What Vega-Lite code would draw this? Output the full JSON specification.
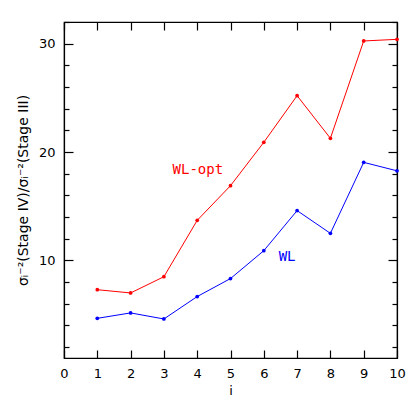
{
  "$schema": "https://vega.github.io/schema/vega-lite/v6.json",
  "width": 333,
  "height": 336,
  "autosize": "none",
  "padding": {"left": 64, "top": 22, "right": 18, "bottom": 57},
  "background": "white",
  "config": {
    "view": {"stroke": "black", "strokeWidth": 1.2},
    "axis": {
      "domainColor": "black", "tickColor": "black", "labelColor": "black", "titleColor": "black",
      "labelFont": "DejaVu Sans", "titleFont": "DejaVu Sans",
      "labelFontSize": 13, "titleFontSize": 13, "titleFontWeight": "normal", "grid": false,
      "labelOverlap": false, "labelFlush": false, "tickWidth": 1.2, "domainWidth": 1.2
    }
  },
  "datasets": {
    "series": [
      {"i": 1, "v": 7.3, "s": "WL-opt"},
      {"i": 2, "v": 7.0, "s": "WL-opt"},
      {"i": 3, "v": 8.5, "s": "WL-opt"},
      {"i": 4, "v": 13.7, "s": "WL-opt"},
      {"i": 5, "v": 16.9, "s": "WL-opt"},
      {"i": 6, "v": 20.9, "s": "WL-opt"},
      {"i": 7, "v": 25.2, "s": "WL-opt"},
      {"i": 8, "v": 21.27, "s": "WL-opt"},
      {"i": 9, "v": 30.25, "s": "WL-opt"},
      {"i": 10, "v": 30.4, "s": "WL-opt"},
      {"i": 1, "v": 4.66, "s": "WL"},
      {"i": 2, "v": 5.16, "s": "WL"},
      {"i": 3, "v": 4.6, "s": "WL"},
      {"i": 4, "v": 6.67, "s": "WL"},
      {"i": 5, "v": 8.33, "s": "WL"},
      {"i": 6, "v": 10.9, "s": "WL"},
      {"i": 7, "v": 14.6, "s": "WL"},
      {"i": 8, "v": 12.5, "s": "WL"},
      {"i": 9, "v": 19.05, "s": "WL"},
      {"i": 10, "v": 18.27, "s": "WL"}
    ],
    "labels": [
      {"i": 4.02, "v": 18.33, "s": "WL-opt"},
      {"i": 6.7, "v": 10.28, "s": "WL"}
    ]
  },
  "layer": [
    {
      "data": {"name": "series"},
      "mark": {"type": "line", "strokeWidth": 1},
      "encoding": {
        "x": {"field": "i", "type": "quantitative",
          "scale": {"domain": [0, 10], "nice": false, "zero": false},
          "axis": {"orient": "bottom", "values": [0,1,2,3,4,5,6,7,8,9,10], "tickSize": -8, "labelPadding": 17, "title": "i", "titlePadding": 4}},
        "y": {"field": "v", "type": "quantitative",
          "scale": {"domain": [1, 32], "nice": false, "zero": false},
          "axis": {"orient": "left", "values": [2,4,6,8,10,12,14,16,18,20,22,24,26,28,30,32],
            "tickSize": {"condition": {"test": "datum.value % 10 === 0", "value": -9}, "value": -5},
            "labelPadding": 18,
            "labelExpr": "datum.value % 10 === 0 ? datum.label : ''",
            "title": "σᵢ⁻²(Stage IV)/σᵢ⁻²(Stage III)", "titleFontSize": 14, "titlePadding": 8}},
        "color": {"field": "s", "type": "nominal", "scale": {"domain": ["WL-opt", "WL"], "range": ["#ff0000", "#0000ff"]}, "legend": null},
        "detail": {"field": "s"}
      }
    },
    {
      "data": {"name": "series"},
      "mark": {"type": "point", "filled": true, "size": 14, "opacity": 1},
      "encoding": {
        "x": {"field": "i", "type": "quantitative",
          "axis": {"orient": "top", "values": [0,1,2,3,4,5,6,7,8,9,10], "tickSize": -8, "labels": false, "title": null}},
        "y": {"field": "v", "type": "quantitative",
          "axis": {"orient": "right", "values": [2,4,6,8,10,12,14,16,18,20,22,24,26,28,30,32],
            "tickSize": {"condition": {"test": "datum.value % 10 === 0", "value": -9}, "value": -5},
            "labels": false, "title": null}},
        "color": {"field": "s", "type": "nominal", "legend": null}
      }
    },
    {
      "data": {"name": "labels"},
      "mark": {"type": "text", "font": "DejaVu Sans Mono", "fontSize": 14, "baseline": "middle", "align": "center"},
      "encoding": {
        "x": {"field": "i", "type": "quantitative", "axis": null},
        "y": {"field": "v", "type": "quantitative", "axis": null},
        "text": {"field": "s"},
        "color": {"field": "s", "type": "nominal", "legend": null}
      }
    }
  ],
  "resolve": {"axis": {"x": "independent", "y": "independent"}}
}
